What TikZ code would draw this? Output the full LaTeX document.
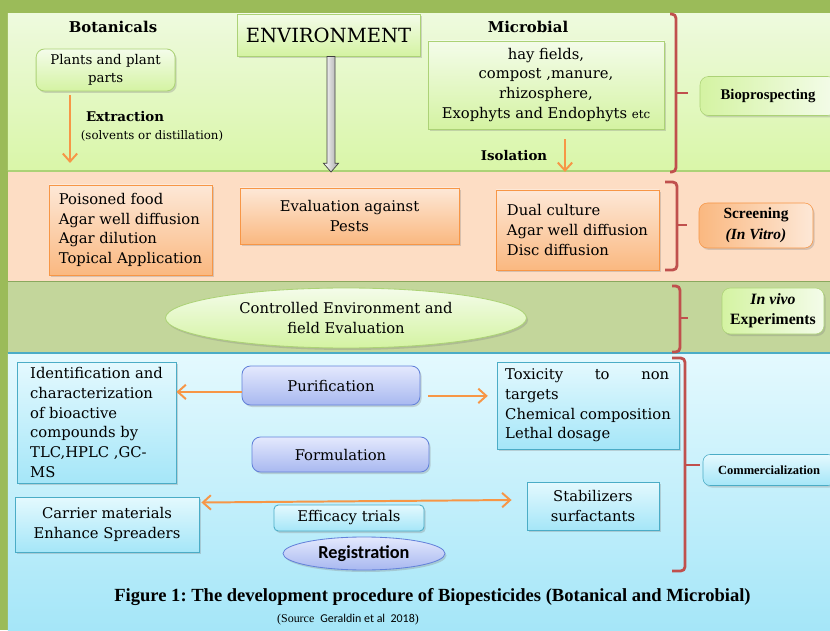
\documentclass[tikz,border=0pt]{standalone}
\usepackage{fontspec}
\setmainfont{DejaVu Serif}
\newfontfamily\timesfont{Liberation Serif}
\newfontfamily\calibrifont{Carlito}
\usetikzlibrary{arrows.meta,positioning,shapes.geometric,shadows,calc}
\frenchspacing
\definecolor{biobg}{RGB}{155,187,89}
\definecolor{biobandtop}{RGB}{238,250,222}
\definecolor{biobandbot}{RGB}{217,246,168}
\definecolor{biogreentop}{RGB}{244,252,234}
\definecolor{biogreenbot}{RGB}{212,243,162}
\definecolor{biogreenline}{RGB}{172,210,118}
\definecolor{biopeach}{RGB}{253,221,196}
\definecolor{bioolive}{RGB}{195,214,155}
\definecolor{biocyantop}{RGB}{228,249,254}
\definecolor{biocyanbot}{RGB}{165,230,248}
\definecolor{biocyanline}{RGB}{75,172,198}
\definecolor{bioorange}{RGB}{247,150,70}
\definecolor{bioorangetop}{RGB}{253,232,215}
\definecolor{bioorangebot}{RGB}{250,184,128}
\definecolor{biolavtop}{RGB}{228,233,253}
\definecolor{biolavbot}{RGB}{168,184,240}
\definecolor{biolavline}{RGB}{100,130,218}
\definecolor{biored}{RGB}{192,80,77}

\begin{document}
\begin{tikzpicture}[
  font=\fontsize{10.5}{14}\selectfont,
  lift/.style={drop shadow={shadow xshift=0.04cm, shadow yshift=-0.05cm, opacity=0.3}},
  greenbox/.style={lift, draw=biogreenline, line width=0.6pt, top color=biogreentop, bottom color=biogreenbot, inner sep=0pt, align=center},
  orangebox/.style={lift, draw=bioorange, line width=0.6pt, top color=bioorangetop, bottom color=bioorangebot, inner sep=0pt},
  cyanbox/.style={lift, draw=biocyanline, line width=0.6pt, top color=biocyantop, bottom color=biocyanbot, inner sep=0pt},
  lavbox/.style={lift, draw=biolavline, line width=0.6pt, top color=biolavtop, bottom color=biolavbot, rounded corners=6pt, inner sep=0pt},
  listbox/.style={align=left, inner sep=0pt},
  tagbox/.style={lift, rounded corners=6pt, inner sep=0pt, align=center, font=\timesfont\fontsize{11.2}{14.2}\selectfont\bfseries},
  grouphead/.style={font=\fontsize{10.6}{13}\selectfont\bfseries},
  subhead/.style={font=\fontsize{9.5}{12}\selectfont\bfseries},
  orarrow/.style={draw=bioorange, line width=1.4pt, -{Straight Barb[length=2mm,width=3.6mm]}},
  orboth/.style={draw=bioorange, line width=1.4pt, {Straight Barb[length=2mm,width=3.6mm]}-{Straight Barb[length=2mm,width=3.6mm]}},
  blockarrow/.style={draw=black!75, line width=0.5pt, left color=white, right color=black!35},
  bracket/.style={draw=biored, line width=2pt, rounded corners=3pt}
]
\useasboundingbox (0,0) rectangle (20.75,15.75);
\fill[biobg] (0,0) rectangle (20.75,15.75);
\shade[top color=biobandtop, bottom color=biobandbot] (0.2,11.475) rectangle (20.75,15.4);
\fill[biopeach] (0.2,8.725) rectangle (20.75,11.475);
\fill[bioolive] (0.2,6.925) rectangle (20.75,8.725);
\shade[top color=biocyantop, bottom color=biocyanbot] (0.2,0) rectangle (20.75,6.925);
\draw[biogreenline, line width=0.8pt] (0.2,11.475) -- (20.75,11.475);
\draw[biogreenline!80!black, line width=0.4pt] (0.2,8.725) -- (20.75,8.725);
\draw[biocyanline, line width=0.8pt] (0.2,6.925) -- (20.75,6.925);

\node[grouphead] (botan) at (2.825,15.075) {Botanicals};
\node[greenbox, rounded corners=6pt, minimum width=3.475cm, minimum height=1.05cm, font=\fontsize{9.5}{12.8}\selectfont] (plants) at (2.64,14.0) {Plants and plant\\parts};
\coordinate (extrend) at (1.75,11.675);
\draw[orarrow, shorten <=0.1cm] (plants.south -| extrend) -- (extrend);
\node[subhead] (extr) at (3.125,12.825) {Extraction};
\node[font=\fontsize{8.4}{10}\selectfont] (solv) at (3.8,12.35) {(solvents or distillation)};

\node[greenbox, minimum width=4.575cm, minimum height=1.05cm, font=\fontsize{13.9}{16}\selectfont] (env) at (8.2125,14.875) {ENVIRONMENT};
\coordinate (envtip) at (8.275,11.45);
\coordinate (envbase) at (env.south -| envtip);
\draw[blockarrow] ($(envbase)+(-0.1,0)$) -- ($(envtip)+(-0.1,0.22)$) -- ($(envtip)+(-0.19,0.22)$) -- (envtip) -- ($(envtip)+(0.19,0.22)$) -- ($(envtip)+(0.1,0.22)$) -- ($(envbase)+(0.1,0)$) -- cycle;

\node[grouphead] (microhead) at (13.2,15.075) {Microbial};
\node[greenbox, minimum width=5.9cm, minimum height=2.2cm, font=\fontsize{10.5}{14.2}\selectfont] (micro) at (13.65,13.625) {hay fields,\\compost ,manure,\\rhizosphere,\\Exophyts and Endophyts {\fontsize{8.4}{10}\selectfont etc}};
\node[subhead] (isol) at (12.85,11.85) {Isolation};
\coordinate (isoend) at (14.125,11.45);
\draw[orarrow, shorten <=0.25cm] (micro.south -| isoend) -- (isoend);

\draw[bracket] (16.75,15.4) -- (16.9,15.4) -- (16.9,11.45) -- (16.75,11.45);
\draw[bracket] (16.9,13.425) -- (17.2,13.425);
\node[tagbox, draw=biogreenline, left color=biogreenbot, right color=biogreentop, minimum width=3.4cm, minimum height=0.975cm, font=\timesfont\fontsize{10.5}{13}\selectfont\bfseries] (biopro) at (19.2,13.35) {Bioprospecting};

\node[orangebox, listbox, minimum width=4.075cm, minimum height=2.25cm] (poison) at (3.2625,10.0) {Poisoned food\\Agar well diffusion\\Agar dilution\\Topical Application};
\node[orangebox, align=center, minimum width=5.475cm, minimum height=1.4cm] (evalpest) at (8.7375,10.35) {Evaluation against\\Pests};
\node[orangebox, listbox, minimum width=4.075cm, minimum height=2.0cm] (dual) at (14.4375,10.0) {Dual culture\\Agar well diffusion\\Disc diffusion};

\draw[bracket] (16.625,11.2) -- (16.925,11.2) -- (16.925,9.0) -- (16.625,9.0);
\draw[bracket] (16.925,10.125) -- (17.175,10.125);
\node[tagbox, draw=bioorange, left color=bioorangebot, right color=bioorangetop, minimum width=2.85cm, minimum height=1.125cm, font=\timesfont\fontsize{11}{15}\selectfont\bfseries] (screen) at (18.9,10.1125) {Screening\\\textit{(In Vitro)}};

\node[ellipse, lift, draw=biogreenline, line width=0.6pt, top color=biogreentop, bottom color=biogreenbot, minimum width=9.025cm, minimum height=1.5cm, inner sep=0pt, align=center] (ctrl) at (8.65,7.8) {Controlled Environment and\\field Evaluation};

\draw[bracket] (16.8,8.6) -- (17.0,8.6) -- (17.0,6.95) -- (16.8,6.95);
\draw[bracket] (17.0,7.8) -- (17.2,7.8);
\node[tagbox, draw=biogreenline, left color=biogreenbot, right color=biogreentop, minimum width=2.55cm, minimum height=1.15cm] (invivo) at (19.325,7.975) {\textit{In vivo}\\Experiments};

\node[cyanbox, listbox, minimum width=3.975cm, minimum height=3.025cm] (ident) at (2.4125,5.1875) {Identification and\\characterization\\of bioactive\\compounds by\\TLC,HPLC ,GC-\\MS};
\node[lavbox, minimum width=4.45cm, minimum height=0.975cm] (purif) at (8.275,6.1125) {Purification};
\node[cyanbox, listbox, minimum width=4.55cm, minimum height=2.175cm] (toxic) at (14.7,5.6125) {\makebox[4.1cm]{Toxicity\hfill to\hfill non}\\targets\\Chemical composition\\Lethal dosage};
\draw[orarrow, transform canvas={yshift=-0.16cm}] (purif.west) -- (purif.west -| ident.east);
\draw[orarrow, shorten <=0.2cm, shorten >=0.22cm, transform canvas={yshift=-0.26cm}] (purif.east) -- (purif.east -| toxic.west);

\node[lavbox, minimum width=4.425cm, minimum height=0.875cm] (formul) at (8.5125,4.3875) {Formulation};
\node[cyanbox, align=center, minimum width=4.6cm, minimum height=1.375cm] (carrier) at (2.675,2.6375) {Carrier materials\\Enhance Spreaders};
\node[cyanbox, align=center, minimum width=3.3cm, minimum height=1.2cm] (stabil) at (14.825,3.1) {Stabilizers\\surfactants};
\node[cyanbox, rounded corners=3pt, minimum width=3.75cm, minimum height=0.65cm] (effic) at (8.725,2.8) {Efficacy trials};
\draw[orboth] ($(carrier.east)+(0.05,0.55)$) -- ($(stabil.west)+(-0.375,0.15)$);
\node[ellipse, lift, draw=biolavline, line width=0.6pt, top color=biolavtop, bottom color=biolavbot, minimum width=4.05cm, minimum height=0.825cm, inner sep=0pt, font=\calibrifont\fontsize{13}{15}\selectfont\bfseries] (regis) at (9.1,1.9125) {Registration};

\draw[bracket] (16.8,6.8) -- (17.125,6.8) -- (17.125,1.475) -- (16.8,1.475);
\draw[bracket] (17.125,4.125) -- (17.5,4.125);
\node[tagbox, draw=biocyanline, top color=biocyantop, bottom color=biocyanbot, rounded corners=5pt, minimum width=3.3cm, minimum height=0.775cm, font=\timesfont\fontsize{8.9}{11}\selectfont\bfseries] (commerc) at (19.225,4.0) {Commercialization};

\node[font=\timesfont\fontsize{13.2}{15}\selectfont\bfseries] (caption) at (10.8125,0.825) {Figure 1: The development procedure of Biopesticides (Botanical and Microbial)};
\node[font=\fontsize{8.5}{10}\selectfont] (source) at (8.7,0.25) {{\timesfont(Source\ \ }{\calibrifont Geraldin et al\ \ 2018}{\timesfont)}};
\end{tikzpicture}
\end{document}
